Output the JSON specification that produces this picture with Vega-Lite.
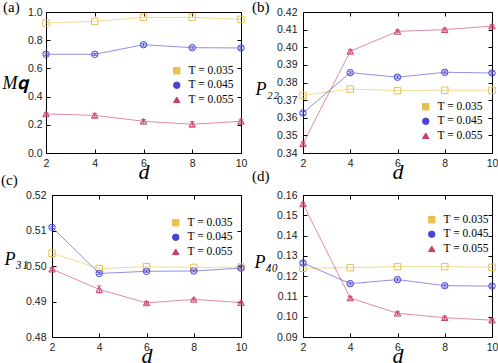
{
  "$schema": "https://vega.github.io/schema/vega-lite/v6.json",
  "padding": {"left": 1, "top": 0, "right": 0, "bottom": 0},
  "background": "white",
  "columns": 2,
  "spacing": {"row": 42, "column": 62},
  "bounds": "flush",
  "resolve": {"scale": {"color": "independent", "shape": "independent", "stroke": "independent"}, "legend": {"color": "independent", "shape": "independent", "stroke": "independent"}},
  "config": {
    "view": {"stroke": null},
    "axis": {"grid": false, "domainColor": "#000", "tickColor": "#000", "domainWidth": 1, "tickWidth": 1, "labelFont": "Liberation Sans", "labelFontSize": 10.5, "labelColor": "#222", "labelFlush": false, "labelOverlap": false, "titleFont": "Liberation Serif", "titleFontStyle": "italic", "titleFontWeight": "normal", "titleColor": "#000"},
    "legend": {"orient": "none", "title": null, "labelFont": "Liberation Serif", "labelFontSize": 11.5, "labelFontWeight": "normal", "labelColor": "#000", "symbolSize": 42, "symbolStrokeWidth": 1, "symbolFillColor": "transparent", "symbolOpacity": 1, "rowPadding": 1.5, "padding": 0, "labelOffset": 6},
    "title": {"anchor": "start", "frame": "group", "offset": 0, "font": "Liberation Serif", "fontSize": 15, "fontWeight": "normal", "color": "#000", "baseline": "alphabetic"}
  },
  "datasets": {
    "a": [
      {"d": 2, "v": 0.922, "T": "T = 0.035", "err": 0},
      {"d": 4, "v": 0.934, "T": "T = 0.035", "err": 0},
      {"d": 6, "v": 0.962, "T": "T = 0.035", "err": 0},
      {"d": 8, "v": 0.962, "T": "T = 0.035", "err": 0},
      {"d": 10, "v": 0.948, "T": "T = 0.035", "err": 0},
      {"d": 2, "v": 0.700, "T": "T = 0.045", "err": 0.008},
      {"d": 4, "v": 0.700, "T": "T = 0.045", "err": 0.008},
      {"d": 6, "v": 0.768, "T": "T = 0.045", "err": 0.01},
      {"d": 8, "v": 0.747, "T": "T = 0.045", "err": 0.01},
      {"d": 10, "v": 0.745, "T": "T = 0.045", "err": 0.01},
      {"d": 2, "v": 0.277, "T": "T = 0.055", "err": 0.008},
      {"d": 4, "v": 0.267, "T": "T = 0.055", "err": 0.014},
      {"d": 6, "v": 0.225, "T": "T = 0.055", "err": 0.013},
      {"d": 8, "v": 0.204, "T": "T = 0.055", "err": 0.018},
      {"d": 10, "v": 0.225, "T": "T = 0.055", "err": 0.015}
    ],
    "b": [
      {"d": 2, "v": 0.3727, "T": "T = 0.035", "err": 0},
      {"d": 4, "v": 0.3763, "T": "T = 0.035", "err": 0},
      {"d": 6, "v": 0.3754, "T": "T = 0.035", "err": 0},
      {"d": 8, "v": 0.3756, "T": "T = 0.035", "err": 0},
      {"d": 10, "v": 0.3756, "T": "T = 0.035", "err": 0},
      {"d": 2, "v": 0.3627, "T": "T = 0.045", "err": 0.0008},
      {"d": 4, "v": 0.3856, "T": "T = 0.045", "err": 0.0008},
      {"d": 6, "v": 0.3830, "T": "T = 0.045", "err": 0.0008},
      {"d": 8, "v": 0.3858, "T": "T = 0.045", "err": 0.0008},
      {"d": 10, "v": 0.3854, "T": "T = 0.045", "err": 0.0008},
      {"d": 2, "v": 0.3453, "T": "T = 0.055", "err": 0.001},
      {"d": 4, "v": 0.3977, "T": "T = 0.055", "err": 0.001},
      {"d": 6, "v": 0.4090, "T": "T = 0.055", "err": 0.0008},
      {"d": 8, "v": 0.4100, "T": "T = 0.055", "err": 0.0008},
      {"d": 10, "v": 0.4120, "T": "T = 0.055", "err": 0.0008}
    ],
    "c": [
      {"d": 2, "v": 0.5036, "T": "T = 0.035", "err": 0},
      {"d": 4, "v": 0.4993, "T": "T = 0.035", "err": 0},
      {"d": 6, "v": 0.4998, "T": "T = 0.035", "err": 0},
      {"d": 8, "v": 0.4996, "T": "T = 0.035", "err": 0},
      {"d": 10, "v": 0.4997, "T": "T = 0.035", "err": 0},
      {"d": 2, "v": 0.5109, "T": "T = 0.045", "err": 0.0003},
      {"d": 4, "v": 0.4979, "T": "T = 0.045", "err": 0.0003},
      {"d": 6, "v": 0.4985, "T": "T = 0.045", "err": 0.0003},
      {"d": 8, "v": 0.4986, "T": "T = 0.045", "err": 0.0003},
      {"d": 10, "v": 0.4994, "T": "T = 0.045", "err": 0.0003},
      {"d": 2, "v": 0.4991, "T": "T = 0.055", "err": 0.0004},
      {"d": 4, "v": 0.4934, "T": "T = 0.055", "err": 0.001},
      {"d": 6, "v": 0.4896, "T": "T = 0.055", "err": 0.0004},
      {"d": 8, "v": 0.4906, "T": "T = 0.055", "err": 0.0004},
      {"d": 10, "v": 0.4897, "T": "T = 0.055", "err": 0.0004}
    ],
    "d": [
      {"d": 2, "v": 0.1239, "T": "T = 0.035", "err": 0},
      {"d": 4, "v": 0.1242, "T": "T = 0.035", "err": 0},
      {"d": 6, "v": 0.1247, "T": "T = 0.035", "err": 0},
      {"d": 8, "v": 0.1247, "T": "T = 0.035", "err": 0},
      {"d": 10, "v": 0.1244, "T": "T = 0.035", "err": 0},
      {"d": 2, "v": 0.1265, "T": "T = 0.045", "err": 0.0007},
      {"d": 4, "v": 0.1163, "T": "T = 0.045", "err": 0.0007},
      {"d": 6, "v": 0.1183, "T": "T = 0.045", "err": 0.0007},
      {"d": 8, "v": 0.1153, "T": "T = 0.045", "err": 0.0007},
      {"d": 10, "v": 0.1151, "T": "T = 0.045", "err": 0.0007},
      {"d": 2, "v": 0.1556, "T": "T = 0.055", "err": 0.0008},
      {"d": 4, "v": 0.1092, "T": "T = 0.055", "err": 0.0008},
      {"d": 6, "v": 0.1017, "T": "T = 0.055", "err": 0.0008},
      {"d": 8, "v": 0.0995, "T": "T = 0.055", "err": 0.0008},
      {"d": 10, "v": 0.0983, "T": "T = 0.055", "err": 0.0008}
    ]
  },
  "concat": [
    {
      "width": 195, "height": 141,
      "title": {"text": "(a)", "dx": -43, "dy": 12},
      "data": {"name": "a"},
      "layer": [
        {
          "mark": {"type": "point", "filled": false, "size": 42, "strokeWidth": 1, "opacity": 1},
          "encoding": {
            "x": {"field": "d", "type": "quantitative", "scale": {"domain": [2, 10], "nice": false, "zero": false}, "axis": {"orient": "top", "values": [2, 4, 6, 8, 10], "labels": false, "title": null, "tickSize": -4}},
            "y": {"field": "v", "type": "quantitative", "scale": {"domain": [0, 1], "nice": false, "zero": false}, "axis": {"orient": "right", "values": [0, 0.2, 0.4, 0.6, 0.8, 1.0], "labels": false, "title": null, "tickSize": -4}},
            "stroke": {"field": "T", "type": "nominal", "scale": {"domain": ["T = 0.035", "T = 0.045", "T = 0.055"], "range": ["#e8c14f", "#4646d2", "#cc3d6b"]}, "legend": {"legendX": 125, "legendY": 53}},
            "shape": {"field": "T", "type": "nominal", "scale": {"domain": ["T = 0.035", "T = 0.045", "T = 0.055"], "range": ["square", "circle", "triangle-up"]}, "legend": {"legendX": 125, "legendY": 53}}
          }
        },
        {
          "mark": {"type": "line", "strokeWidth": 1, "opacity": 0.6},
          "encoding": {
            "x": {"field": "d", "type": "quantitative", "scale": {"domain": [2, 10], "nice": false, "zero": false}, "axis": {"orient": "bottom", "values": [2, 4, 6, 8, 10], "title": "d", "titleFontSize": 22, "titleY": 25, "titleBaseline": "alphabetic", "tickSize": -4, "labelPadding": 9}},
            "y": {"field": "v", "type": "quantitative", "scale": {"domain": [0, 1], "nice": false, "zero": false}, "axis": {"orient": "left", "values": [0, 0.2, 0.4, 0.6, 0.8, 1.0], "format": ".1f", "title": "M𝐪", "titleAngle": 0, "titleAlign": "left", "titleBaseline": "alphabetic", "titleX": -44, "titleY": 76, "titleFontSize": 18, "tickSize": -4, "labelPadding": 8}},
            "color": {"field": "T", "type": "nominal", "scale": {"domain": ["T = 0.035", "T = 0.045", "T = 0.055"], "range": ["#e8c14f", "#4646d2", "#cc3d6b"]}, "legend": null}
          }
        },
        {
          "transform": [{"filter": "datum.err > 0"}],
          "mark": {"type": "errorbar", "ticks": {"size": 5}},
          "encoding": {
            "x": {"field": "d", "type": "quantitative", "scale": {"domain": [2, 10], "nice": false, "zero": false}, "axis": null},
            "y": {"field": "v", "type": "quantitative", "scale": {"domain": [0, 1], "nice": false, "zero": false}, "axis": null},
            "yError": {"field": "err"},
            "color": {"field": "T", "type": "nominal", "scale": {"domain": ["T = 0.035", "T = 0.045", "T = 0.055"], "range": ["#e8c14f", "#4646d2", "#cc3d6b"]}, "legend": null}
          }
        }
      ],
      "resolve": {"axis": {"x": "independent", "y": "independent"}}
    },
    {
      "width": 189, "height": 141,
      "title": {"text": "(b)", "dx": -51, "dy": 12},
      "data": {"name": "b"},
      "layer": [
        {
          "mark": {"type": "point", "filled": false, "size": 42, "strokeWidth": 1, "opacity": 1},
          "encoding": {
            "x": {"field": "d", "type": "quantitative", "scale": {"domain": [2, 10], "nice": false, "zero": false}, "axis": {"orient": "top", "values": [2, 4, 6, 8, 10], "labels": false, "title": null, "tickSize": -4}},
            "y": {"field": "v", "type": "quantitative", "scale": {"domain": [0.34, 0.42], "nice": false, "zero": false}, "axis": {"orient": "right", "values": [0.34, 0.35, 0.36, 0.37, 0.38, 0.39, 0.40, 0.41, 0.42], "labels": false, "title": null, "tickSize": -4}},
            "stroke": {"field": "T", "type": "nominal", "scale": {"domain": ["T = 0.035", "T = 0.045", "T = 0.055"], "range": ["#e8c14f", "#4646d2", "#cc3d6b"]}, "legend": {"legendX": 117, "legendY": 89}},
            "shape": {"field": "T", "type": "nominal", "scale": {"domain": ["T = 0.035", "T = 0.045", "T = 0.055"], "range": ["square", "circle", "triangle-up"]}, "legend": {"legendX": 117, "legendY": 89}}
          }
        },
        {
          "mark": {"type": "line", "strokeWidth": 1, "opacity": 0.6},
          "encoding": {
            "x": {"field": "d", "type": "quantitative", "scale": {"domain": [2, 10], "nice": false, "zero": false}, "axis": {"orient": "bottom", "values": [2, 4, 6, 8, 10], "title": "d", "titleFontSize": 22, "titleY": 25, "titleBaseline": "alphabetic", "tickSize": -4, "labelPadding": 9}},
            "y": {"field": "v", "type": "quantitative", "scale": {"domain": [0.34, 0.42], "nice": false, "zero": false}, "axis": {"orient": "left", "values": [0.34, 0.35, 0.36, 0.37, 0.38, 0.39, 0.40, 0.41, 0.42], "format": ".2f", "title": "P₂₂", "titleAngle": 0, "titleAlign": "left", "titleBaseline": "alphabetic", "titleX": -48, "titleY": 82, "titleFontSize": 18, "tickSize": -4, "labelPadding": 10}},
            "color": {"field": "T", "type": "nominal", "scale": {"domain": ["T = 0.035", "T = 0.045", "T = 0.055"], "range": ["#e8c14f", "#4646d2", "#cc3d6b"]}, "legend": null}
          }
        },
        {
          "transform": [{"filter": "datum.err > 0"}],
          "mark": {"type": "errorbar", "ticks": {"size": 5}},
          "encoding": {
            "x": {"field": "d", "type": "quantitative", "scale": {"domain": [2, 10], "nice": false, "zero": false}, "axis": null},
            "y": {"field": "v", "type": "quantitative", "scale": {"domain": [0.34, 0.42], "nice": false, "zero": false}, "axis": null},
            "yError": {"field": "err"},
            "color": {"field": "T", "type": "nominal", "scale": {"domain": ["T = 0.035", "T = 0.045", "T = 0.055"], "range": ["#e8c14f", "#4646d2", "#cc3d6b"]}, "legend": null}
          }
        }
      ],
      "resolve": {"axis": {"x": "independent", "y": "independent"}}
    },
    {
      "width": 195, "height": 142,
      "title": {"text": "(c)", "dx": -45, "dy": 2},
      "data": {"name": "c"},
      "layer": [
        {
          "mark": {"type": "point", "filled": false, "size": 42, "strokeWidth": 1, "opacity": 1},
          "encoding": {
            "x": {"field": "d", "type": "quantitative", "scale": {"domain": [2, 10], "range": [6, 195], "nice": false, "zero": false}, "axis": {"orient": "top", "values": [2, 4, 6, 8, 10], "labels": false, "title": null, "tickSize": -4}},
            "y": {"field": "v", "type": "quantitative", "scale": {"domain": [0.48, 0.52], "nice": false, "zero": false}, "axis": {"orient": "right", "values": [0.48, 0.49, 0.50, 0.51, 0.52], "labels": false, "title": null, "tickSize": -4}},
            "stroke": {"field": "T", "type": "nominal", "scale": {"domain": ["T = 0.035", "T = 0.045", "T = 0.055"], "range": ["#e8c14f", "#4646d2", "#cc3d6b"]}, "legend": {"legendX": 124, "legendY": 22}},
            "shape": {"field": "T", "type": "nominal", "scale": {"domain": ["T = 0.035", "T = 0.045", "T = 0.055"], "range": ["square", "circle", "triangle-up"]}, "legend": {"legendX": 124, "legendY": 22}}
          }
        },
        {
          "mark": {"type": "line", "strokeWidth": 1, "opacity": 0.6},
          "encoding": {
            "x": {"field": "d", "type": "quantitative", "scale": {"domain": [2, 10], "range": [6, 195], "nice": false, "zero": false}, "axis": {"orient": "bottom", "values": [2, 4, 6, 8, 10], "title": "d", "titleFontSize": 22, "titleY": 25, "titleBaseline": "alphabetic", "tickSize": -4, "labelPadding": 9}},
            "y": {"field": "v", "type": "quantitative", "scale": {"domain": [0.48, 0.52], "nice": false, "zero": false}, "axis": {"orient": "left", "offset": -6, "values": [0.48, 0.49, 0.50, 0.51, 0.52], "format": ".2f", "title": "P₃₁", "titleAngle": 0, "titleAlign": "left", "titleBaseline": "alphabetic", "titleX": -48, "titleY": 69, "titleFontSize": 18, "tickSize": -4, "labelPadding": 10}},
            "color": {"field": "T", "type": "nominal", "scale": {"domain": ["T = 0.035", "T = 0.045", "T = 0.055"], "range": ["#e8c14f", "#4646d2", "#cc3d6b"]}, "legend": null}
          }
        },
        {
          "transform": [{"filter": "datum.err > 0"}],
          "mark": {"type": "errorbar", "ticks": {"size": 5}},
          "encoding": {
            "x": {"field": "d", "type": "quantitative", "scale": {"domain": [2, 10], "range": [6, 195], "nice": false, "zero": false}, "axis": null},
            "y": {"field": "v", "type": "quantitative", "scale": {"domain": [0.48, 0.52], "nice": false, "zero": false}, "axis": null},
            "yError": {"field": "err"},
            "color": {"field": "T", "type": "nominal", "scale": {"domain": ["T = 0.035", "T = 0.045", "T = 0.055"], "range": ["#e8c14f", "#4646d2", "#cc3d6b"]}, "legend": null}
          }
        }
      ],
      "resolve": {"axis": {"x": "independent", "y": "independent"}}
    },
    {
      "width": 189, "height": 142,
      "title": {"text": "(d)", "dx": -51, "dy": -2},
      "data": {"name": "d"},
      "layer": [
        {
          "mark": {"type": "point", "filled": false, "size": 42, "strokeWidth": 1, "opacity": 1},
          "encoding": {
            "x": {"field": "d", "type": "quantitative", "scale": {"domain": [2, 10], "nice": false, "zero": false}, "axis": {"orient": "top", "values": [2, 4, 6, 8, 10], "labels": false, "title": null, "tickSize": -4}},
            "y": {"field": "v", "type": "quantitative", "scale": {"domain": [0.09, 0.16], "nice": false, "zero": false}, "axis": {"orient": "right", "values": [0.09, 0.10, 0.11, 0.12, 0.13, 0.14, 0.15, 0.16], "labels": false, "title": null, "tickSize": -4}},
            "stroke": {"field": "T", "type": "nominal", "scale": {"domain": ["T = 0.035", "T = 0.045", "T = 0.055"], "range": ["#e8c14f", "#4646d2", "#cc3d6b"]}, "legend": {"legendX": 123, "legendY": 19}},
            "shape": {"field": "T", "type": "nominal", "scale": {"domain": ["T = 0.035", "T = 0.045", "T = 0.055"], "range": ["square", "circle", "triangle-up"]}, "legend": {"legendX": 123, "legendY": 19}}
          }
        },
        {
          "mark": {"type": "line", "strokeWidth": 1, "opacity": 0.6},
          "encoding": {
            "x": {"field": "d", "type": "quantitative", "scale": {"domain": [2, 10], "nice": false, "zero": false}, "axis": {"orient": "bottom", "values": [2, 4, 6, 8, 10], "title": "d", "titleFontSize": 22, "titleY": 25, "titleBaseline": "alphabetic", "tickSize": -4, "labelPadding": 9}},
            "y": {"field": "v", "type": "quantitative", "scale": {"domain": [0.09, 0.16], "nice": false, "zero": false}, "axis": {"orient": "left", "values": [0.09, 0.10, 0.11, 0.12, 0.13, 0.14, 0.15, 0.16], "format": ".2f", "title": "P₄₀", "titleAngle": 0, "titleAlign": "left", "titleBaseline": "alphabetic", "titleX": -49, "titleY": 72, "titleFontSize": 18, "tickSize": -4, "labelPadding": 10}},
            "color": {"field": "T", "type": "nominal", "scale": {"domain": ["T = 0.035", "T = 0.045", "T = 0.055"], "range": ["#e8c14f", "#4646d2", "#cc3d6b"]}, "legend": null}
          }
        },
        {
          "transform": [{"filter": "datum.err > 0"}],
          "mark": {"type": "errorbar", "ticks": {"size": 5}},
          "encoding": {
            "x": {"field": "d", "type": "quantitative", "scale": {"domain": [2, 10], "nice": false, "zero": false}, "axis": null},
            "y": {"field": "v", "type": "quantitative", "scale": {"domain": [0.09, 0.16], "nice": false, "zero": false}, "axis": null},
            "yError": {"field": "err"},
            "color": {"field": "T", "type": "nominal", "scale": {"domain": ["T = 0.035", "T = 0.045", "T = 0.055"], "range": ["#e8c14f", "#4646d2", "#cc3d6b"]}, "legend": null}
          }
        }
      ],
      "resolve": {"axis": {"x": "independent", "y": "independent"}}
    }
  ]
}
